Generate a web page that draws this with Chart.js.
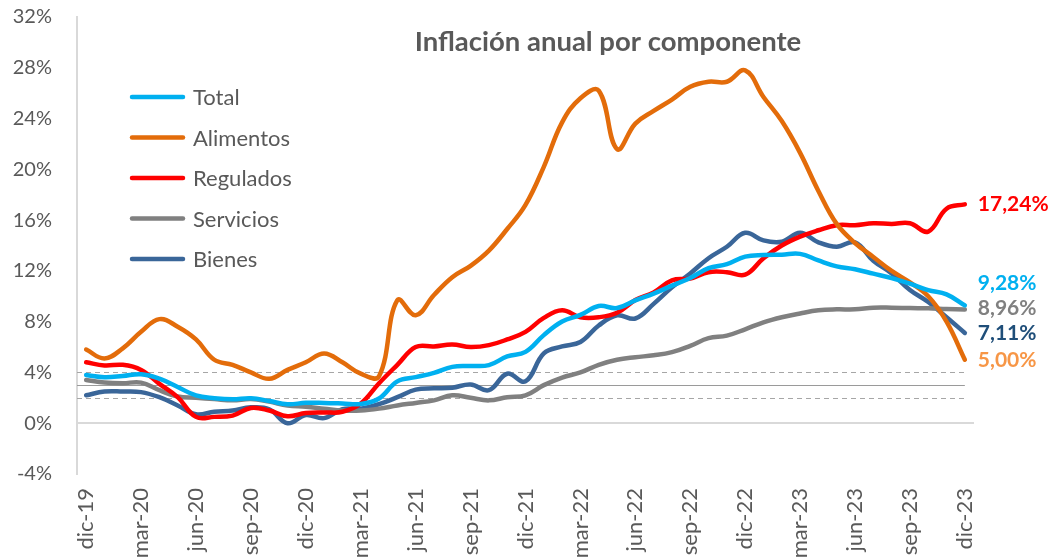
<!DOCTYPE html>
<html><head><meta charset="utf-8">
<script src="https://cdn.jsdelivr.net/npm/chart.js@4/dist/chart.umd.min.js"></script>
<style>html,body{margin:0;padding:0;background:#fff}#w{width:1053px;height:559px;position:relative}</style>
</head><body><div id="w"><canvas id="c"></canvas></div>
<script>
const months = ['dic-19','ene-20','feb-20','mar-20','abr-20','may-20','jun-20','jul-20','ago-20','sep-20','oct-20','nov-20','dic-20',
'ene-21','feb-21','mar-21','abr-21','may-21','jun-21','jul-21','ago-21','sep-21','oct-21','nov-21','dic-21',
'ene-22','feb-22','mar-22','abr-22','may-22','jun-22','jul-22','ago-22','sep-22','oct-22','nov-22','dic-22',
'ene-23','feb-23','mar-23','abr-23','may-23','jun-23','jul-23','ago-23','sep-23','oct-23','nov-23','dic-23'];
const total = [3.80,3.62,3.72,3.86,3.51,2.85,2.19,1.97,1.88,1.97,1.75,1.49,1.61,1.60,1.56,1.51,1.95,3.30,3.63,3.97,4.44,4.51,4.58,5.26,5.62,6.94,8.01,8.53,9.23,9.07,9.67,10.21,10.84,11.44,12.22,12.53,13.12,13.25,13.28,13.34,12.82,12.36,12.13,11.78,11.43,10.99,10.48,10.15,9.28];
const alimentos = [5.8,5.1,5.9,7.2,8.2,7.6,6.6,5.0,4.6,4.0,3.5,4.2,4.8,5.5,4.8,3.9,3.7,9.7,8.5,10.1,11.5,12.4,13.6,15.3,17.2,20.2,23.7,25.6,26.2,21.6,23.6,24.6,25.5,26.5,26.9,26.9,27.8,25.7,23.8,21.3,18.3,15.7,14.2,13.1,12.0,11.1,10.0,8.0,5.0];
const regulados = [4.8,4.55,4.6,4.2,3.1,2.05,0.5,0.5,0.6,1.2,1.0,0.55,0.8,0.85,0.9,1.55,3.15,4.6,6.0,6.05,6.2,6.0,6.15,6.6,7.2,8.3,8.9,8.35,8.35,8.7,9.7,10.3,11.25,11.4,11.9,11.9,11.7,13.0,14.0,14.7,15.2,15.6,15.6,15.75,15.7,15.75,15.1,16.9,17.24];
const servicios = [3.4,3.2,3.15,3.2,2.6,2.1,2.0,1.9,1.8,1.9,1.7,1.4,1.3,1.15,1.0,1.0,1.15,1.4,1.6,1.8,2.2,2.0,1.8,2.05,2.2,3.0,3.6,4.0,4.6,5.0,5.2,5.35,5.6,6.1,6.7,6.9,7.4,7.95,8.35,8.65,8.9,8.97,8.97,9.1,9.1,9.07,9.05,9.0,8.96];
const bienes = [2.2,2.5,2.5,2.45,2.05,1.4,0.7,0.9,1.0,1.25,1.1,0.0,0.65,0.4,1.1,1.15,1.5,2.05,2.65,2.75,2.8,3.05,2.6,3.9,3.3,5.5,6.05,6.4,7.7,8.5,8.25,9.4,10.7,11.8,13.0,13.9,15.0,14.4,14.3,15.0,14.25,13.9,14.25,12.8,11.8,10.5,9.55,8.35,7.11];
const seriesNames = ['Total','Alimentos','Regulados','Servicios','Bienes'];
const lineColors = ['#00B0F0','#E36C0A','#FF0000','#808080','#3A6699'];
const labelColors = ['#00B0F0','#F79646','#FF0000','#808080','#1F4E79'];
const metaValue = 3;
const rangeValues = [2, 4];
const yTicks = [-4,0,4,8,12,16,20,24,28,32];
const titleText = 'Inflación anual por componente';
const FONT = 'Lato, "Open Sans", sans-serif';

const seriesData = [total, alimentos, regulados, servicios, bienes];

const extras = {
  id: 'extras',
  beforeDatasetsDraw(chart) {
    const {ctx, chartArea, scales:{x, y}} = chart;
    const xEnd = x.getPixelForValue(months.length - 1);
    ctx.save();
    ctx.strokeStyle = '#A6A6A6';
    ctx.lineWidth = 1.2;
    ctx.setLineDash([5,4]);
    rangeValues.forEach(v => {
      const py = Math.round(y.getPixelForValue(v)) + 0.5;
      ctx.beginPath(); ctx.moveTo(chartArea.left, py); ctx.lineTo(xEnd, py); ctx.stroke();
    });
    ctx.setLineDash([]);
    ctx.strokeStyle = '#9A9A9A';
    const pm = Math.round(y.getPixelForValue(metaValue)) + 0.5;
    ctx.beginPath(); ctx.moveTo(chartArea.left, pm); ctx.lineTo(xEnd, pm); ctx.stroke();
    ctx.restore();
  },
  afterDraw(chart) {
    const {ctx, scales:{x, y}} = chart;
    ctx.save();
    ctx.fillStyle = '#595959';
    ctx.font = 'bold 27.5px ' + FONT;
    ctx.textAlign = 'center'; ctx.textBaseline = 'middle';
    ctx.fillText(titleText, 608, 42);
    ctx.font = '22px ' + FONT;
    ctx.textAlign = 'left';
    seriesNames.forEach((n, i) => {
      const ly = 97 + i * 40.5;
      ctx.strokeStyle = lineColors[i]; ctx.lineWidth = 4.5; ctx.lineCap = 'round';
      ctx.beginPath(); ctx.moveTo(132, ly); ctx.lineTo(183, ly); ctx.stroke();
      ctx.fillStyle = '#595959';
      ctx.fillText(n, 193, ly + 1);
    });
    const last = months.length - 1;
    const items = seriesData.map((d, i) => ({i, v: d[last], py: y.getPixelForValue(d[last])}));
    items.sort((a, b) => b.py - a.py);
    let prev = Infinity;
    items.forEach(it => { it.ly = Math.min(it.py, prev - 25); prev = it.ly; });
    const lx = x.getPixelForValue(last) + 13;
    ctx.font = 'bold 21px ' + FONT;
    items.forEach(it => {
      ctx.fillStyle = labelColors[it.i];
      ctx.fillText(it.v.toFixed(2).replace('.', ',') + '%', lx, it.ly);
    });
    ctx.restore();
  }
};

new Chart(document.getElementById('c'), {
  type: 'line',
  data: {
    labels: months,
    datasets: seriesNames.map((n, i) => ({
      label: n, data: seriesData[i], borderColor: lineColors[i], backgroundColor: lineColors[i],
      borderWidth: 4.5, pointRadius: 0, tension: 0.4, fill: false, borderCapStyle: 'round'
    }))
  },
  options: {
    responsive: true, maintainAspectRatio: false, animation: false,
    layout: { padding: { top: 17, right: 79, left: 0, bottom: 0 } },
    plugins: { legend: { display: false }, tooltip: { enabled: false }, title: { display: false } },
    scales: {
      x: {
        offset: true,
        grid: { display: false, drawTicks: false },
        border: { display: false },
        ticks: {
          autoSkip: false, minRotation: 90, maxRotation: 90, padding: 14,
          color: '#595959', font: { family: FONT, size: 22 },
          callback: (v, i) => (i % 3 === 0 ? months[i] : '')
        },
        afterFit: s => { s.height = 85; s.paddingTop = 0; s.paddingBottom = 0; s.paddingLeft = 0; s.paddingRight = 0; }
      },
      y: {
        min: -4, max: 32,
        afterBuildTicks: s => { s.ticks = yTicks.map(v => ({value: v})); },
        grid: { drawTicks: false, color: c => (c.tick && c.tick.value === 0 ? '#D9D9D9' : 'rgba(0,0,0,0)'), lineWidth: 2 },
        border: { display: true, color: '#D9D9D9', width: 2 },
        ticks: { padding: 25, color: '#595959', font: { family: FONT, size: 20 }, callback: v => v + '%' },
        afterFit: s => { s.width = 77; s.paddingTop = 0; s.paddingBottom = 0; }
      }
    }
  },
  plugins: [extras]
});
</script></body></html>
